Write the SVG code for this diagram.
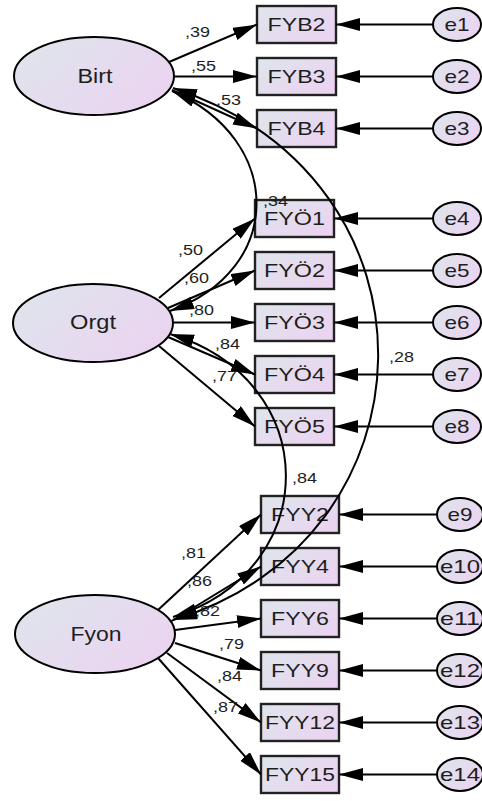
<svg xmlns="http://www.w3.org/2000/svg" width="482" height="801" viewBox="0 0 482 801">
  <defs>
    <linearGradient id="fill" x1="0" y1="0.2" x2="1" y2="0.8">
      <stop offset="0" stop-color="#dfe4ec"/>
      <stop offset="1" stop-color="#ebd3f1"/>
    </linearGradient>
    <marker id="ah" markerUnits="userSpaceOnUse" markerWidth="26" markerHeight="14" refX="24" refY="6.5" orient="auto-start-reverse">
      <path d="M0,0 L24,6.5 L0,13 z" fill="#000"/>
    </marker>
    <style>
      .lat { fill: url(#fill); stroke: #000; stroke-width: 2; }
      .box { fill: url(#fill); stroke: #222; stroke-width: 2.4; }
      .err { fill: url(#fill); stroke: #000; stroke-width: 2; }
      text { font-family: "Liberation Sans", Arial, sans-serif; fill: #1e1e1e; }
      .t { font-size: 18.5px; text-anchor: middle; }
      .lt { font-size: 19.5px; text-anchor: middle; }
      .lbl { font-size: 15px; }
      .ln { stroke: #000; stroke-width: 2; fill: none; marker-end: url(#ah); }
      .cov { stroke: #000; stroke-width: 2; fill: none; marker-start: url(#ah); marker-end: url(#ah); }
    </style>
  </defs>

  <!-- latent factors -->
  <g id="Birt"><ellipse class="lat" cx="94" cy="76" rx="80" ry="39"/><text class="lt" x="95" y="83" textLength="35" lengthAdjust="spacingAndGlyphs">Birt</text></g>
  <g id="Orgt"><ellipse class="lat" cx="93" cy="323" rx="80" ry="39"/><text class="lt" x="93" y="329" textLength="46" lengthAdjust="spacingAndGlyphs">Orgt</text></g>
  <g id="Fyon"><ellipse class="lat" cx="95" cy="634" rx="80" ry="39"/><text class="lt" x="96" y="641" textLength="51" lengthAdjust="spacingAndGlyphs">Fyon</text></g>

  <!-- observed indicators -->
  <g id="FYB2"><rect class="box" x="257" y="6" width="79" height="37"/><text class="t" x="296.5" y="31" textLength="58" lengthAdjust="spacingAndGlyphs">FYB2</text></g>
  <g id="FYB3"><rect class="box" x="257" y="58" width="79" height="37"/><text class="t" x="296.5" y="83" textLength="58" lengthAdjust="spacingAndGlyphs">FYB3</text></g>
  <g id="FYB4"><rect class="box" x="257" y="110" width="79" height="37"/><text class="t" x="296.5" y="135" textLength="58" lengthAdjust="spacingAndGlyphs">FYB4</text></g>

  <g id="FYO1"><rect class="box" x="255" y="200" width="79" height="37"/><text class="t" x="294.5" y="225" textLength="61" lengthAdjust="spacingAndGlyphs">FYÖ1</text></g>
  <g id="FYO2"><rect class="box" x="255" y="252" width="79" height="37"/><text class="t" x="294.5" y="277" textLength="61" lengthAdjust="spacingAndGlyphs">FYÖ2</text></g>
  <g id="FYO3"><rect class="box" x="255" y="304" width="79" height="37"/><text class="t" x="294.5" y="329" textLength="61" lengthAdjust="spacingAndGlyphs">FYÖ3</text></g>
  <g id="FYO4"><rect class="box" x="255" y="356" width="79" height="37"/><text class="t" x="294.5" y="381" textLength="61" lengthAdjust="spacingAndGlyphs">FYÖ4</text></g>
  <g id="FYO5"><rect class="box" x="255" y="408" width="79" height="37"/><text class="t" x="294.5" y="433" textLength="61" lengthAdjust="spacingAndGlyphs">FYÖ5</text></g>

  <g id="FYY2"><rect class="box" x="261" y="496" width="78" height="37"/><text class="t" x="300" y="521" textLength="58" lengthAdjust="spacingAndGlyphs">FYY2</text></g>
  <g id="FYY4"><rect class="box" x="261" y="548" width="78" height="37"/><text class="t" x="300" y="573" textLength="58" lengthAdjust="spacingAndGlyphs">FYY4</text></g>
  <g id="FYY6"><rect class="box" x="261" y="600" width="78" height="37"/><text class="t" x="300" y="625" textLength="58" lengthAdjust="spacingAndGlyphs">FYY6</text></g>
  <g id="FYY9"><rect class="box" x="261" y="652" width="78" height="37"/><text class="t" x="300" y="677" textLength="58" lengthAdjust="spacingAndGlyphs">FYY9</text></g>
  <g id="FYY12"><rect class="box" x="261" y="704" width="78" height="37"/><text class="t" x="300" y="729" textLength="70" lengthAdjust="spacingAndGlyphs">FYY12</text></g>
  <g id="FYY15"><rect class="box" x="261" y="756" width="78" height="37"/><text class="t" x="300" y="781" textLength="70" lengthAdjust="spacingAndGlyphs">FYY15</text></g>

  <!-- error terms -->
  <g id="e1"><ellipse class="err" cx="457" cy="24.5" rx="24" ry="16.5"/><text class="t" x="457" y="31" textLength="25" lengthAdjust="spacingAndGlyphs">e1</text></g>
  <g id="e2"><ellipse class="err" cx="457" cy="76.5" rx="24" ry="16.5"/><text class="t" x="457" y="83" textLength="25" lengthAdjust="spacingAndGlyphs">e2</text></g>
  <g id="e3"><ellipse class="err" cx="457" cy="128.5" rx="24" ry="16.5"/><text class="t" x="457" y="135" textLength="25" lengthAdjust="spacingAndGlyphs">e3</text></g>
  <g id="e4"><ellipse class="err" cx="457" cy="218.5" rx="24" ry="16.5"/><text class="t" x="457" y="225" textLength="25" lengthAdjust="spacingAndGlyphs">e4</text></g>
  <g id="e5"><ellipse class="err" cx="457" cy="270.5" rx="24" ry="16.5"/><text class="t" x="457" y="277" textLength="25" lengthAdjust="spacingAndGlyphs">e5</text></g>
  <g id="e6"><ellipse class="err" cx="457" cy="322.5" rx="24" ry="16.5"/><text class="t" x="457" y="329" textLength="25" lengthAdjust="spacingAndGlyphs">e6</text></g>
  <g id="e7"><ellipse class="err" cx="457" cy="374.5" rx="24" ry="16.5"/><text class="t" x="457" y="381" textLength="25" lengthAdjust="spacingAndGlyphs">e7</text></g>
  <g id="e8"><ellipse class="err" cx="457" cy="426.5" rx="24" ry="16.5"/><text class="t" x="457" y="433" textLength="25" lengthAdjust="spacingAndGlyphs">e8</text></g>
  <g id="e9"><ellipse class="err" cx="460" cy="514.5" rx="23" ry="16.5"/><text class="t" x="460" y="521" textLength="25" lengthAdjust="spacingAndGlyphs">e9</text></g>
  <g id="e10"><ellipse class="err" cx="460" cy="566.5" rx="23" ry="16.5"/><text class="t" x="460" y="573" textLength="40" lengthAdjust="spacingAndGlyphs">e10</text></g>
  <g id="e11"><ellipse class="err" cx="460" cy="618.5" rx="23" ry="16.5"/><text class="t" x="460" y="625" textLength="40" lengthAdjust="spacingAndGlyphs">e11</text></g>
  <g id="e12"><ellipse class="err" cx="460" cy="670.5" rx="23" ry="16.5"/><text class="t" x="460" y="677" textLength="40" lengthAdjust="spacingAndGlyphs">e12</text></g>
  <g id="e13"><ellipse class="err" cx="460" cy="722.5" rx="23" ry="16.5"/><text class="t" x="460" y="729" textLength="40" lengthAdjust="spacingAndGlyphs">e13</text></g>
  <g id="e14"><ellipse class="err" cx="460" cy="774.5" rx="23" ry="16.5"/><text class="t" x="460" y="781" textLength="40" lengthAdjust="spacingAndGlyphs">e14</text></g>

  <!-- connectors: loadings, error paths, covariances -->
  <g id="connectors">
    <line class="ln" x1="169" y1="62" x2="257" y2="24.5"/>
    <line class="ln" x1="174" y1="76.5" x2="257" y2="76.5"/>
    <line class="ln" x1="172" y1="90" x2="257" y2="128.5"/>

    <line class="ln" x1="159" y1="298" x2="255" y2="218.5"/>
    <line class="ln" x1="168" y1="308" x2="255" y2="270.5"/>
    <line class="ln" x1="173" y1="322.5" x2="255" y2="322.5"/>
    <line class="ln" x1="168" y1="337" x2="255" y2="374.5"/>
    <line class="ln" x1="159" y1="346" x2="255" y2="426.5"/>

    <line class="ln" x1="158" y1="610" x2="261" y2="514.5"/>
    <line class="ln" x1="170" y1="622" x2="261" y2="566.5"/>
    <line class="ln" x1="175" y1="630" x2="261" y2="618.5"/>
    <line class="ln" x1="175" y1="643" x2="261" y2="670.5"/>
    <line class="ln" x1="167" y1="653" x2="261" y2="722.5"/>
    <line class="ln" x1="158" y1="658" x2="261" y2="774.5"/>

    <line class="ln" x1="433" y1="24.5" x2="336" y2="24.5"/>
    <line class="ln" x1="433" y1="76.5" x2="336" y2="76.5"/>
    <line class="ln" x1="433" y1="128.5" x2="336" y2="128.5"/>
    <line class="ln" x1="433" y1="218.5" x2="334" y2="218.5"/>
    <line class="ln" x1="433" y1="270.5" x2="334" y2="270.5"/>
    <line class="ln" x1="433" y1="322.5" x2="334" y2="322.5"/>
    <line class="ln" x1="433" y1="374.5" x2="334" y2="374.5"/>
    <line class="ln" x1="433" y1="426.5" x2="334" y2="426.5"/>
    <line class="ln" x1="437" y1="514.5" x2="339" y2="514.5"/>
    <line class="ln" x1="437" y1="566.5" x2="339" y2="566.5"/>
    <line class="ln" x1="437" y1="618.5" x2="339" y2="618.5"/>
    <line class="ln" x1="437" y1="670.5" x2="339" y2="670.5"/>
    <line class="ln" x1="437" y1="722.5" x2="339" y2="722.5"/>
    <line class="ln" x1="437" y1="774.5" x2="339" y2="774.5"/>

    <path class="cov" d="M172,91 C285,140 285,270 170,311"/>
    <path class="cov" d="M173,88 C453,180 440,540 173,620"/>
    <path class="cov" d="M170,334 C324,380 324,570 173,617"/>
  </g>

  <!-- coefficient labels -->
  <g id="labels">
    <text class="lbl" x="185" y="37" textLength="25" lengthAdjust="spacingAndGlyphs">,39</text>
    <text class="lbl" x="191" y="71" textLength="25" lengthAdjust="spacingAndGlyphs">,55</text>
    <text class="lbl" x="216" y="105" textLength="25" lengthAdjust="spacingAndGlyphs">,53</text>
    <text class="lbl" x="263" y="206" textLength="25" lengthAdjust="spacingAndGlyphs">,34</text>
    <text class="lbl" x="178" y="255" textLength="25" lengthAdjust="spacingAndGlyphs">,50</text>
    <text class="lbl" x="184" y="283" textLength="25" lengthAdjust="spacingAndGlyphs">,60</text>
    <text class="lbl" x="189" y="315" textLength="25" lengthAdjust="spacingAndGlyphs">,80</text>
    <text class="lbl" x="215" y="349" textLength="25" lengthAdjust="spacingAndGlyphs">,84</text>
    <text class="lbl" x="389" y="362" textLength="25" lengthAdjust="spacingAndGlyphs">,28</text>
    <text class="lbl" x="212" y="381" textLength="25" lengthAdjust="spacingAndGlyphs">,77</text>
    <text class="lbl" x="292" y="483" textLength="25" lengthAdjust="spacingAndGlyphs">,84</text>
    <text class="lbl" x="181" y="558" textLength="25" lengthAdjust="spacingAndGlyphs">,81</text>
    <text class="lbl" x="187" y="586" textLength="25" lengthAdjust="spacingAndGlyphs">,86</text>
    <text class="lbl" x="195" y="616" textLength="25" lengthAdjust="spacingAndGlyphs">,82</text>
    <text class="lbl" x="219" y="649" textLength="25" lengthAdjust="spacingAndGlyphs">,79</text>
    <text class="lbl" x="217" y="681" textLength="25" lengthAdjust="spacingAndGlyphs">,84</text>
    <text class="lbl" x="213" y="712" textLength="25" lengthAdjust="spacingAndGlyphs">,87</text>
  </g>
</svg>
